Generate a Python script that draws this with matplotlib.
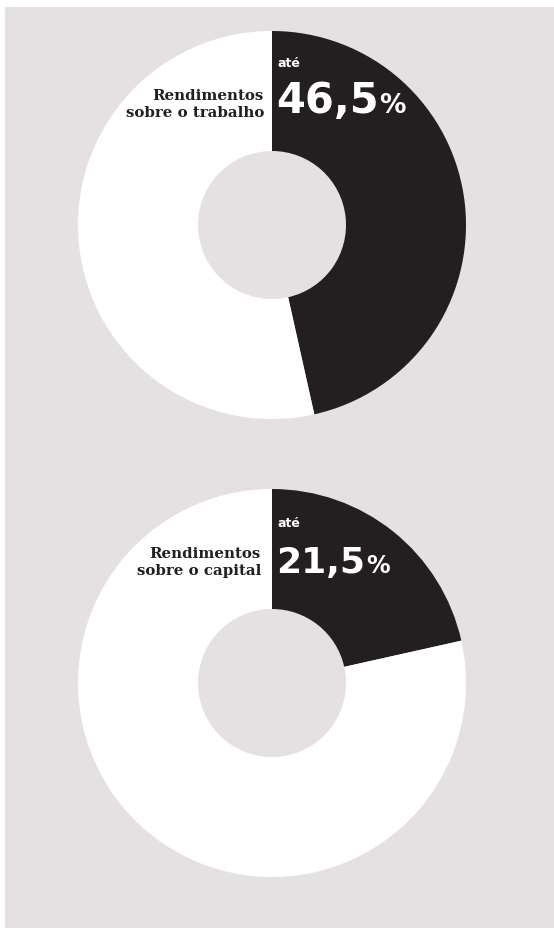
import matplotlib
matplotlib.use("Agg")
import matplotlib.pyplot as plt
from matplotlib.patches import Rectangle

# chart data
shares = [46.5, 21.5]
share_labels = ["46,5", "21,5"]
categories = ["Rendimentos\nsobre o trabalho", "Rendimentos\nsobre o capital"]
prefix = "até"

W, H = 554, 929
BG = "#e5e0e1"
DARK = "#231f20"
LIGHT = "#ffffff"

fig = plt.figure(figsize=(W / 100, H / 100), dpi=100, facecolor="white")
fig.add_artist(Rectangle((5 / W, 0), 1 - 5 / W, 1 - 8 / H, transform=fig.transFigure,
                         facecolor=BG, edgecolor="none", zorder=0))


def fx(x):
    return x / W


def fy(y):
    return 1 - y / H


centers = [(272, 226), (272, 684)]
num_sizes = [30, 26]
pct_sizes = [19, 17]
label_right = [8, 11]
R_OUT, R_IN = 194, 74

fig.canvas.draw()
renderer = fig.canvas.get_renderer()

for i, (share, num, cat, (cx, cy)) in enumerate(zip(shares, share_labels, categories, centers)):
    ax = fig.add_axes([fx(cx - R_OUT), fy(cy + R_OUT), 2 * R_OUT / W, 2 * R_OUT / H])
    ax.pie([share, 100 - share], colors=[DARK, LIGHT], startangle=90,
           counterclock=False, radius=1,
           wedgeprops=dict(width=1 - R_IN / R_OUT, edgecolor="none", linewidth=0))
    ax.set_xlim(-1, 1)
    ax.set_ylim(-1, 1)
    ax.set_aspect("equal")
    ax.axis("off")

    top = cy - R_OUT
    fig.text(fx(cx + 5), fy(top + 35 + i * 2), prefix, color="white", fontsize=9,
             fontweight="bold", family="DejaVu Sans", va="baseline", ha="left")
    base = fy(top + 81 + i * 2)
    t = fig.text(fx(cx + 4), base, num, color="white", fontsize=num_sizes[i],
                 fontweight="bold", family="DejaVu Sans", va="baseline", ha="left")
    bb = t.get_window_extent(renderer=renderer)
    fig.text((bb.x1 + 1) / W, base, "%", color="white", fontsize=pct_sizes[i],
             fontweight="bold", family="DejaVu Sans", va="baseline", ha="left")
    fig.text(fx(cx - label_right[i]), fy(top + 85), cat, color=DARK, fontsize=10.8,
             fontweight="bold", family="DejaVu Serif", va="baseline", ha="right",
             linespacing=1.26)

fig.savefig("out.png", dpi=100, facecolor="white")
